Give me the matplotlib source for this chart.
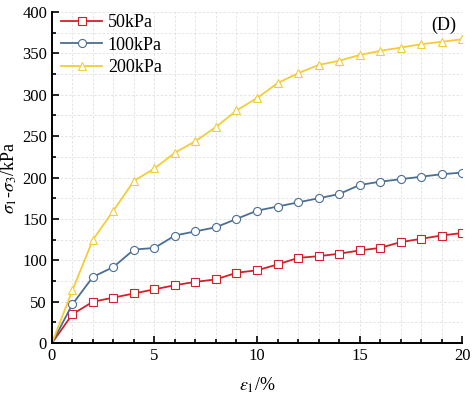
import matplotlib
matplotlib.use('agg')
import matplotlib.pyplot as plt
from matplotlib.ticker import MultipleLocator

# axial strain (%)
strain = list(range(0, 21))

# deviator stress (kPa) for each confining pressure
q_50 = [0, 35, 50, 55, 60, 65, 70, 74, 77, 85, 88, 95, 103, 105, 108, 112, 115, 122, 126, 130, 133]
q_100 = [0, 47, 80, 92, 113, 115, 130, 135, 140, 150, 160, 165, 170, 175, 180, 191, 195, 198, 201, 204, 206]
q_200 = [0, 64, 125, 160, 196, 211, 230, 244, 261, 281, 296, 314, 326, 336, 341, 348, 353, 357, 361, 364, 367]

labels = ['50kPa', '100kPa', '200kPa']
colors = ['#d5202a', '#4b6e95', '#f4cc38']
markers = ['s', 'o', '^']

plt.rcParams['font.family'] = ['Liberation Serif', 'DejaVu Serif']
plt.rcParams['mathtext.fontset'] = 'stix'

fig = plt.figure(figsize=(4.72, 3.99), dpi=100)
ax = fig.add_axes([0.110, 0.140, 0.869, 0.830])

for q, lab, c, m in zip([q_50, q_100, q_200], labels, colors, markers):
    ax.plot(strain, q, color=c, marker=m, markersize=5.8, markerfacecolor='white',
            markeredgecolor=c, markeredgewidth=0.8, linewidth=1.3, label=lab,
            markevery=slice(1, None))

ax.set_xlim(0, 20)
ax.set_ylim(0, 400)
ax.xaxis.set_major_locator(MultipleLocator(5))
ax.xaxis.set_minor_locator(MultipleLocator(1))
ax.yaxis.set_major_locator(MultipleLocator(50))
ax.yaxis.set_minor_locator(MultipleLocator(25))
ax.tick_params(which='both', direction='in', labelsize=12, width=1.2)
ax.tick_params(which='major', length=5)
ax.tick_params(which='minor', length=3)

ax.grid(which='both', color='#e0e0e0', linestyle=(0, (3, 2)), linewidth=0.6)
ax.set_axisbelow(True)

for s in ['top', 'right']:
    ax.spines[s].set_visible(False)
for s in ['left', 'bottom']:
    ax.spines[s].set_linewidth(1.4)

ax.set_xlabel(r'$\varepsilon_1$/%', fontsize=13, labelpad=8)
ax.set_ylabel(r'$\sigma_1$-$\sigma_3$/kPa', fontsize=13, labelpad=2)

ax.legend(loc='upper left', frameon=False, fontsize=13, handlelength=2.3,
          handletextpad=0.3, labelspacing=0.3, borderaxespad=0.1,
          bbox_to_anchor=(0.0, 1.02))
ax.text(0.985, 0.985, '(D)', transform=ax.transAxes, ha='right', va='top', fontsize=13)

fig.savefig('out.png', dpi=100)
